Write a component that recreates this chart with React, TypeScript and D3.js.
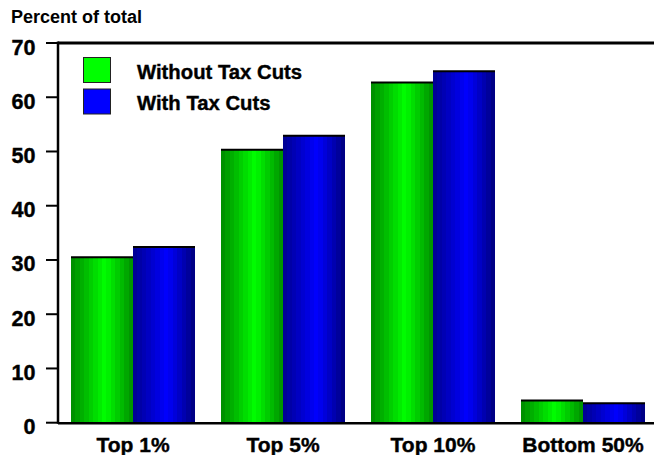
import React from "react";
import * as d3 from "d3";

const categories = ["Top 1%", "Top 5%", "Top 10%", "Bottom 50%"];
const withoutTaxCuts = [30.5, 50.3, 62.7, 4.1];
const withTaxCuts = [32.4, 52.9, 64.8, 3.6];
const seriesNames = ["Without Tax Cuts", "With Tax Cuts"];
const yTicks = [0, 10, 20, 30, 40, 50, 60, 70];

const W = 654;
const H = 455;
const left = 58;
const right = 658;
const top = 43;
const bottom = 422.7;

function steppedStops(dark1: string, bright: string, dark2: string, steps: number) {
  const c1 = d3.interpolateRgb(dark1, bright);
  const c2 = d3.interpolateRgb(bright, dark2);
  const peak = 0.55;
  const stops: { offset: number; color: string }[] = [];
  for (let i = 0; i < steps; i++) {
    const a = i / steps;
    const b = (i + 1) / steps;
    const mid = (a + b) / 2;
    const col = mid <= peak ? c1(mid / peak) : c2((mid - peak) / (1 - peak));
    stops.push({ offset: a, color: col });
    stops.push({ offset: b, color: col });
  }
  return stops;
}

export default function App() {
  const x = d3
    .scaleBand<string>()
    .domain(categories)
    .range([left, right])
    .paddingInner(26 / 150)
    .paddingOuter(13 / 150);
  const x1 = d3.scaleBand<number>().domain([0, 1]).range([0, x.bandwidth()]);
  const y = d3.scaleLinear().domain([0, 70]).range([bottom, top]);

  const greenStops = steppedStops("#008800", "#00ff00", "#008c00", 14);
  const blueStops = steppedStops("#000090", "#0000ff", "#00007c", 14);
  const series = [withoutTaxCuts, withTaxCuts];
  const fills = ["url(#gGreen)", "url(#gBlue)"];
  const legendFills = ["#00ff00", "#0000ff"];
  const font = "Liberation Sans, Arial, Helvetica, sans-serif";
  const heavy = { stroke: "#000", strokeWidth: 0.4 };

  return (
    <svg width={W} height={H} style={{ position: "absolute", left: 0, top: 0, background: "#fff" }}>
      <defs>
        <linearGradient id="gGreen" x1="0" x2="1" y1="0" y2="0">
          {greenStops.map((s, i) => (
            <stop key={i} offset={s.offset} stopColor={s.color} />
          ))}
        </linearGradient>
        <linearGradient id="gBlue" x1="0" x2="1" y1="0" y2="0">
          {blueStops.map((s, i) => (
            <stop key={i} offset={s.offset} stopColor={s.color} />
          ))}
        </linearGradient>
      </defs>
      <rect width={W} height={H} fill="#fff" />
      <text x={11} y={23} fontFamily={font} fontWeight="bold" fontSize={18} fill="#000">
        Percent of total
      </text>
      {categories.map((c, ci) =>
        series.map((s, si) => {
          const bx = (x(c) as number) + (x1(si) as number);
          const bw = x1.bandwidth();
          const by = y(s[ci]);
          return (
            <g key={c + si}>
              <rect x={bx} y={by} width={bw} height={bottom - by} fill={fills[si]} />
              <line x1={bx} x2={bx + bw} y1={by} y2={by} stroke="#000" strokeWidth={2} />
            </g>
          );
        })
      )}
      <line x1={left} x2={W} y1={top} y2={top} stroke="#000" strokeWidth={3} />
      <line x1={left} x2={left} y1={top - 1.5} y2={bottom + 1} stroke="#000" strokeWidth={2.5} />
      <line x1={left} x2={W} y1={bottom + 0.5} y2={bottom + 0.5} stroke="#000" strokeWidth={2.5} />
      {yTicks.map((t) => (
        <g key={t}>
          <line x1={46} x2={left} y1={y(t)} y2={y(t)} stroke="#000" strokeWidth={2} />
          <text
            x={35.5}
            y={y(t) + 11.5}
            textAnchor="end"
            fontFamily={font}
            fontWeight="bold"
            fontSize={21.5}
            fill="#000"
            {...heavy}
          >
            {t}
          </text>
        </g>
      ))}
      {categories.map((c) => (
        <text
          key={c}
          x={(x(c) as number) + x.bandwidth() / 2}
          y={451.5}
          textAnchor="middle"
          fontFamily={font}
          fontWeight="bold"
          fontSize={21}
          fill="#000"
          {...heavy}
        >
          {c}
        </text>
      ))}
      {seriesNames.map((n, i) => (
        <g key={n}>
          <rect
            x={83.5}
            y={57.5 + i * 31.5}
            width={27}
            height={25}
            fill={legendFills[i]}
            stroke="#222"
            strokeWidth={1}
          />
          <text
            x={137}
            y={78.5 + i * 31.5}
            fontFamily={font}
            fontWeight="bold"
            fontSize={20.3}
            fill="#000"
            {...heavy}
          >
            {n}
          </text>
        </g>
      ))}
    </svg>
  );
}
